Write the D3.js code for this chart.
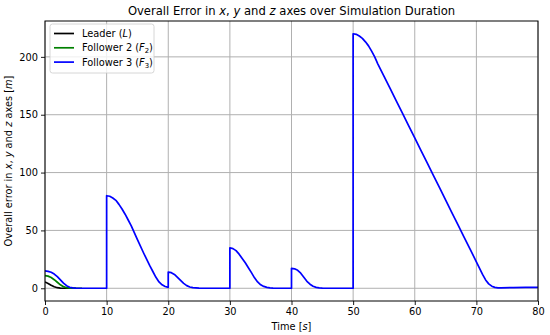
<!DOCTYPE html>
<html>
<head>
<meta charset="utf-8">
<script src="https://cdn.jsdelivr.net/npm/d3@7"></script>
<style>
  body { margin: 0; background: #fff; }
  text { font-family: "DejaVu Sans", sans-serif; fill: #000; }
</style>
</head>
<body>
<div class="chart"></div>
<script>
// time [s] and overall error [m] for each vehicle
var leaderTime  = [0, 0.5, 1, 1.5, 2, 2.5, 3, 5];
var leaderError = [5.5, 4.2, 2.6, 1.3, 0.5, 0.15, 0, 0];

var f2Time  = [0, 0.5, 1, 1.5, 2, 2.5, 3, 3.5, 4, 5, 6];
var f2Error = [11, 10.5, 9.3, 7.4, 5.2, 3, 1.4, 0.5, 0.15, 0, 0];

var f3Time = [0, 0.5, 1, 1.5, 2, 2.5, 3, 3.5, 4, 4.5, 5, 6, 10,
    10, 10.5, 11, 11.5, 12, 12.5, 13, 13.5, 14, 15, 16, 17, 17.5, 18, 18.5, 19, 19.5, 20,
    20, 20.5, 21, 21.5, 22, 22.5, 23, 23.5, 24, 25, 26, 30,
    30, 30.5, 31, 31.5, 32, 32.5, 33, 33.5, 34, 34.5, 35, 35.5, 36, 36.5, 37, 38, 40,
    40, 40.5, 41, 41.5, 42, 42.5, 43, 43.5, 44, 44.5, 45, 46, 50,
    50, 50.5, 51, 51.5, 52, 52.5, 53, 53.5, 54, 55, 56, 57, 58, 59, 60, 61, 62, 63, 64,
    65, 66, 67, 68, 69, 70, 70.5, 71, 71.5, 72, 72.5, 73, 73.5, 74, 76, 78, 80];
var f3Error = [15, 14.6, 13.8, 12.3, 10, 7.2, 4.5, 2.2, 0.9, 0.35, 0.1, 0, 0,
    80, 79.5, 78, 76, 72.5, 68.5, 64, 59, 54, 42, 30.5, 19.5, 14.5, 9.5, 5.5, 3, 1.5, 0.8,
    14, 13.5, 12, 9.5, 6.8, 4.2, 2.3, 1.1, 0.5, 0.1, 0, 0,
    35, 34.3, 32.5, 29.5, 25.8, 22, 17.8, 13.5, 9, 5.5, 3, 1.6, 0.8, 0.3, 0.1, 0, 0,
    17.2, 16.8, 15.5, 13, 9.5, 6, 3.5, 1.8, 0.8, 0.3, 0.1, 0, 0,
    220, 219.5, 218, 216, 213, 209.5, 205, 200, 194, 183.4, 172.7, 162, 151.3, 140.6, 129.9, 119.2, 108.5, 97.8, 87.1,
    76.4, 65.7, 55, 44.3, 33.6, 22.9, 17.5, 12, 7.2, 3.8, 1.8, 0.8, 0.4, 0.4, 0.6, 0.7, 0.7];

var xTicks = [0, 10, 20, 30, 40, 50, 60, 70, 80];
var yTicks = [0, 50, 100, 150, 200];

var width = 550, height = 335,
    margin = {top: 21, right: 12, bottom: 34, left: 45};

var svg = d3.select("div.chart").append("svg")
    .attr("width", width)
    .attr("height", height);

var x = d3.scaleLinear().domain([0, 80]).range([margin.left, width - margin.right]);
var y = d3.scaleLinear().domain([-11, 231]).range([height - margin.bottom, margin.top]);

// grid
svg.append("g").selectAll("line.gx").data(xTicks).enter().append("line")
    .attr("x1", d => x(d)).attr("x2", d => x(d))
    .attr("y1", y(-11)).attr("y2", y(231))
    .attr("stroke", "#b0b0b0").attr("stroke-width", 1);
svg.append("g").selectAll("line.gy").data(yTicks).enter().append("line")
    .attr("x1", x(0)).attr("x2", x(80))
    .attr("y1", d => y(d)).attr("y2", d => y(d))
    .attr("stroke", "#b0b0b0").attr("stroke-width", 1);

// series
var line = d3.line().x(d => x(d[0])).y(d => y(d[1]));
var series = [
    {time: leaderTime, err: leaderError, color: "#000000"},
    {time: f2Time, err: f2Error, color: "#008000"},
    {time: f3Time, err: f3Error, color: "#0000ff"}
];
var clip = svg.append("clipPath").attr("id", "clip").append("rect")
    .attr("x", x(0)).attr("y", y(231))
    .attr("width", x(80) - x(0)).attr("height", y(-11) - y(231));
series.forEach(function(s) {
    svg.append("path")
        .attr("clip-path", "url(#clip)")
        .attr("d", line(s.time.map((t, i) => [t, s.err[i]])))
        .attr("fill", "none")
        .attr("stroke", s.color)
        .attr("stroke-width", 1.7)
        .attr("stroke-linejoin", "round");
});

// axes
var xAxis = svg.append("g")
    .attr("transform", "translate(0," + y(-11) + ")")
    .call(d3.axisBottom(x).tickValues(xTicks).tickSize(4).tickPadding(3).tickSizeOuter(0));
var yAxis = svg.append("g")
    .attr("transform", "translate(" + x(0) + ",0)")
    .call(d3.axisLeft(y).tickValues(yTicks).tickSize(4).tickPadding(3).tickSizeOuter(0));
[xAxis, yAxis].forEach(function(a) {
    a.selectAll("text").style("font-size", "9.8px").style("font-family", "DejaVu Sans").attr("fill", "#000");
    a.select(".domain").remove();
    a.selectAll("line").attr("stroke", "#000").attr("stroke-width", 0.9);
});

// frame
svg.append("rect")
    .attr("x", x(0)).attr("y", y(231))
    .attr("width", x(80) - x(0)).attr("height", y(-11) - y(231))
    .attr("fill", "none").attr("stroke", "#000").attr("stroke-width", 1);

// title and labels with italic math parts
function richText(sel, parts) {
    parts.forEach(function(p) {
        var t = sel.append("tspan").text(p[0]);
        if (p[1] == "i") t.style("font-style", "italic");
    });
}

var title = svg.append("text")
    .attr("x", (x(0) + x(80)) / 2).attr("y", 15)
    .attr("text-anchor", "middle")
    .style("font-size", "11.6px");
richText(title, [["Overall Error in "], ["x", "i"], [", "], ["y", "i"], [" and "], ["z", "i"], [" axes over Simulation Duration"]]);

var xlab = svg.append("text")
    .attr("x", (x(0) + x(80)) / 2).attr("y", 330)
    .attr("text-anchor", "middle")
    .style("font-size", "9.8px");
richText(xlab, [["Time ["], ["s", "i"], ["]"]]);

var ylab = svg.append("text")
    .attr("transform", "translate(12," + (y(-11) + y(231)) / 2 + ") rotate(-90)")
    .attr("text-anchor", "middle")
    .style("font-size", "9.8px");
richText(ylab, [["Overall error in "], ["x", "i"], [", "], ["y", "i"], [" and "], ["z", "i"], [" axes ["], ["m", "i"], ["]"]]);

// legend
var legend = svg.append("g").attr("class", "legend");
legend.append("rect")
    .attr("x", 50).attr("y", 24)
    .attr("width", 104).attr("height", 49)
    .attr("rx", 2.5)
    .attr("fill", "#fff").attr("fill-opacity", 0.8)
    .attr("stroke", "#cccccc").attr("stroke-width", 0.8);

var legendRows = [
    {label: "Leader (", sym: "L", sub: "", color: "#000000"},
    {label: "Follower 2 (", sym: "F", sub: "2", color: "#008000"},
    {label: "Follower 3 (", sym: "F", sub: "3", color: "#0000ff"}
];
legendRows.forEach(function(r, i) {
    var cy = 33.5 + i * 14.3;
    legend.append("line")
        .attr("x1", 54).attr("x2", 74)
        .attr("y1", cy).attr("y2", cy)
        .attr("stroke", r.color).attr("stroke-width", 1.7);
    var t = legend.append("text")
        .attr("x", 82).attr("y", cy + 3.5)
        .style("font-size", "9.8px");
    t.append("tspan").text(r.label);
    t.append("tspan").style("font-style", "italic").text(r.sym);
    if (r.sub) {
        t.append("tspan").attr("dy", 2).style("font-size", "6.9px").text(r.sub);
        t.append("tspan").attr("dy", -2).text(")");
    } else {
        t.append("tspan").text(")");
    }
});
</script>
</body>
</html>
